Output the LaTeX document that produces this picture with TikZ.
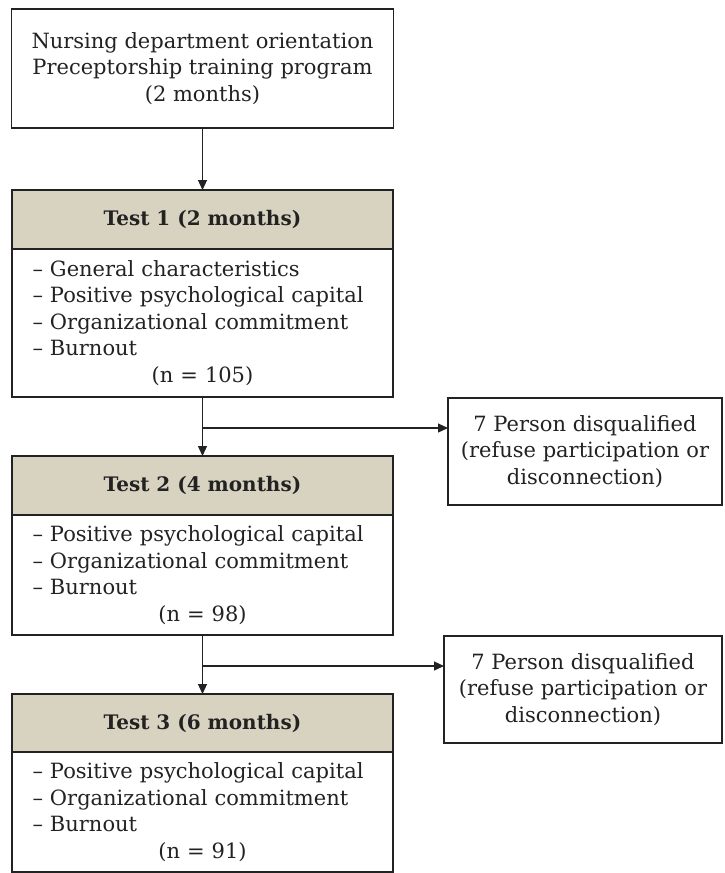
\documentclass[tikz,border=0pt]{standalone}
\usepackage{fontspec}
\setmainfont{DejaVu Serif}
\usepackage{tikz}
\usetikzlibrary{arrows.meta, positioning, calc}
\definecolor{headfill}{RGB}{216,211,192}
\definecolor{inkgray}{RGB}{34,34,34}
\tikzset{
  stagebox/.style={
    draw=inkgray, line width=1.5pt, fill=white, align=center,
    inner sep=0pt, outer sep=0pt, text=inkgray,
    font=\fontsize{21}{26.5}\selectfont
  },
  headbox/.style={
    stagebox, fill=headfill, font=\fontsize{20}{24}\selectfont\bfseries,
    minimum width=381pt, minimum height=59pt
  },
  listbox/.style={
    stagebox, align=left, text width=340pt, minimum width=381pt
  },
  dropbox/.style={
    stagebox, minimum height=107pt
  },
  flowarrow/.style={
    -{Triangle[length=10pt, width=9pt]}, line width=1.2pt, draw=inkgray
  },
}

\begin{document}
\begin{tikzpicture}[x=1pt, y=1pt]
  \useasboundingbox (0,0) rectangle (725,-873);

  % === Orientation ===
  \node[stagebox, minimum width=382pt, minimum height=119pt] (orient) at (202.5,-68.5)
    {Nursing department orientation\\Preceptorship training program\\(2 months)};

  % === Test 1 ===
  \node[headbox] (test1) at (202.5,-219.5) {Test 1 (2 months)};
  \node[listbox, minimum height=148pt, below=0pt of test1] (body1)
    {-- General characteristics\\-- Positive psychological capital\\
     -- Organizational commitment\\-- Burnout\\\makebox[\linewidth]{(n = 105)}};

  % === Test 2 ===
  \node[headbox, below=59pt of body1] (test2) {Test 2 (4 months)};
  \node[listbox, minimum height=120pt, below=0pt of test2] (body2)
    {-- Positive psychological capital\\-- Organizational commitment\\
     -- Burnout\\\makebox[\linewidth]{(n = 98)}};

  % === Test 3 ===
  \node[headbox, minimum height=58pt, below=59pt of body2] (test3) {Test 3 (6 months)};
  \node[listbox, minimum height=120pt, below=0pt of test3] (body3)
    {-- Positive psychological capital\\-- Organizational commitment\\
     -- Burnout\\\makebox[\linewidth]{(n = 91)}};

  % === Drop-outs ===
  \node[dropbox, minimum width=274pt] (drop1) at (585,-451.5)
    {7 Person disqualified\\(refuse participation or\\disconnection)};
  \node[dropbox, minimum width=278pt] (drop2) at (583,-689.5)
    {7 Person disqualified\\(refuse participation or\\disconnection)};

  % === Arrows ===
  \draw[flowarrow] (orient.south) -- (test1.north);
  \draw[flowarrow] (body1.south) -- (test2.north);
  \draw[flowarrow] (body2.south) -- (test3.north);

  \coordinate (split1) at ($(body1.south)+(0,-31)$);
  \coordinate (split2) at ($(body2.south)+(0,-31)$);
  \draw[flowarrow] (split1) -- (split1 -| drop1.west);
  \draw[flowarrow] (split2) -- (split2 -| drop2.west);

\end{tikzpicture}
\end{document}
